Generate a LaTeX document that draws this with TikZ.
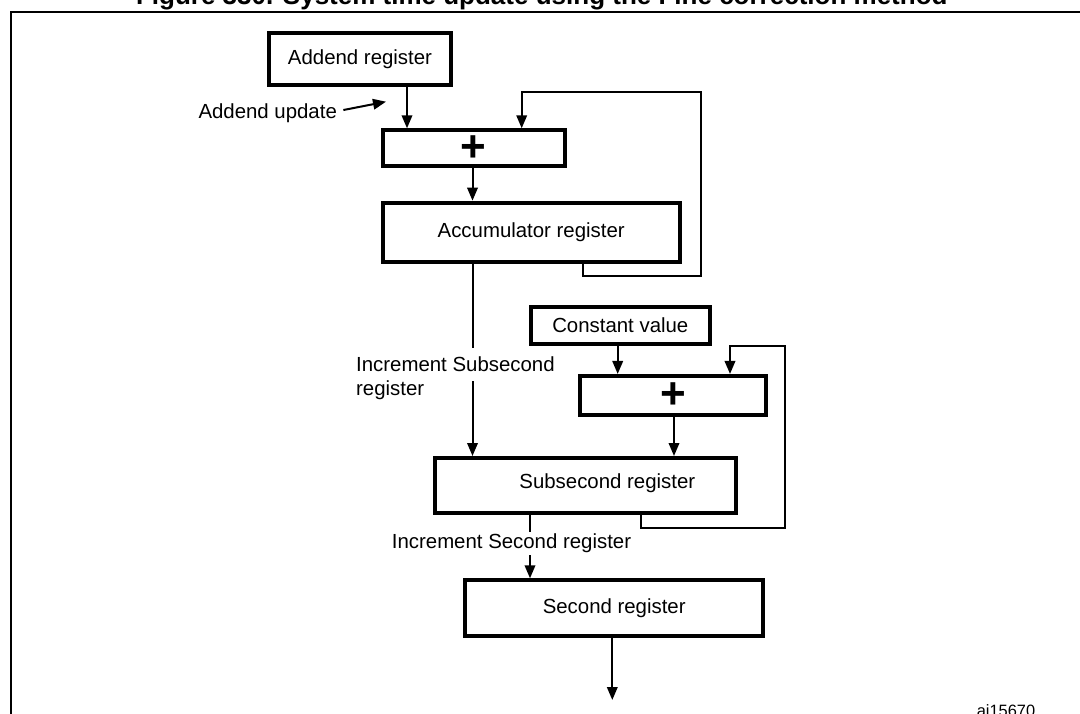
\documentclass[tikz,border=0pt]{standalone}
\usepackage{fontspec}
\setmainfont{Liberation Sans}
\usetikzlibrary{arrows.meta}
\newcommand\regfont{\fontsize{20.4}{24.4}\selectfont}
\newcommand\plusfont{\fontsize{44}{44}\selectfont\bfseries}
\newcommand\ttlfont{\fontsize{26}{30}\selectfont\bfseries}
\newcommand\aifont{\fontsize{16.4}{19}\selectfont}
\begin{document}
\begin{tikzpicture}[x=1pt,y=-1pt,
  box/.style={draw, line width=4pt, inner sep=0pt, font=\regfont},
  lbl/.style={inner sep=0pt, font=\regfont},
  arr/.style={line width=2pt, -{Triangle[length=13pt,width=10.5pt]}},
  fline/.style={line width=2pt}]
\useasboundingbox (0,0) rectangle (1080,714);
% frame and title
\draw[fline] (1085,11.7) -- (11,11.7) -- (11,720);
\node[font=\ttlfont, anchor=base, inner sep=0pt] (title) at (541.8,4.5) {Figure 330. System time update using the Fine correction method};
% boxes
\node[box, minimum width=182.6pt, minimum height=52pt] (addend) at (360,59) {Addend register};
\node[box, minimum width=182pt, minimum height=36pt, font=\plusfont] (plusA) at (473.7,148.3) {+};
\node[box, minimum width=297pt, minimum height=59.3pt] (acc) at (531.2,232.3) {Accumulator register};
\node[box, minimum width=178.7pt, minimum height=37pt] (const) at (620.3,325.5) {Constant value};
\node[box, minimum width=186.6pt, minimum height=38.7pt, font=\plusfont] (plusB) at (673,395.3) {+};
\node[box, minimum width=301.6pt, minimum height=55pt] (sub) at (585.5,485.5) {};
\node[lbl] (subtxt) at (607.3,483) {Subsecond register};
\node[box, minimum width=297.7pt, minimum height=56pt] (sec) at (614.2,608.3) {Second register};
% column coordinates
\coordinate (xA) at (407,0);
\coordinate (xB) at (521.7,0);
\coordinate (xC) at (472.5,0);
\coordinate (xD) at (582.7,0);
\coordinate (xE) at (617.7,0);
\coordinate (xF) at (730,0);
\coordinate (xG) at (674,0);
\coordinate (xH) at (641,0);
\coordinate (xI) at (530,0);
\coordinate (xJ) at (612.3,0);
\coordinate (fbA1) at (700.7,275.7);
\coordinate (fbA2) at (700.7,92.3);
\coordinate (fbB1) at (785,527.7);
\coordinate (fbB2) at (785,346);
\coordinate (out) at (612.3,700);
\coordinate (updtip) at (386,101.7);
% connectors
\draw[arr] (addend.south -| xA) -- (plusA.north -| xA);
\draw[arr] (acc.south -| xD) |- (fbA1) -- (fbA2) -| (plusA.north -| xB);
\draw[arr] (plusA.south -| xC) -- (acc.north -| xC);
\draw[arr] (acc.south -| xC) -- (sub.north -| xC);
\draw[arr] (const.south -| xE) -- (plusB.north -| xE);
\draw[arr] (sub.south -| xH) |- (fbB1) -- (fbB2) -| (plusB.north -| xF);
\draw[arr] (plusB.south -| xG) -- (sub.north -| xG);
\draw[arr] (sub.south -| xI) -- (sec.north -| xI);
\draw[arr] (sec.south -| xJ) -- (out);
% labels
\node[lbl, anchor=base west] (addupd) at (198.3,119) {Addend update};
\draw[arr] ([xshift=6.3pt,yshift=3.7pt]addupd.east) -- (updtip);
\node[lbl, fill=white, inner ysep=9pt, anchor=base west] (incsub) at (356,371.7) {Increment Subsecond};
\node[lbl, anchor=base west] (incsubb) at (356,395.3) {register};
\node[lbl, fill=white, inner ysep=2pt, anchor=base west] (incsec) at (391.7,548.3) {Increment Second register};
\node[font=\aifont, anchor=base, inner sep=0pt] (ai) at (1006,716.7) {ai15670};
\end{tikzpicture}
\end{document}
